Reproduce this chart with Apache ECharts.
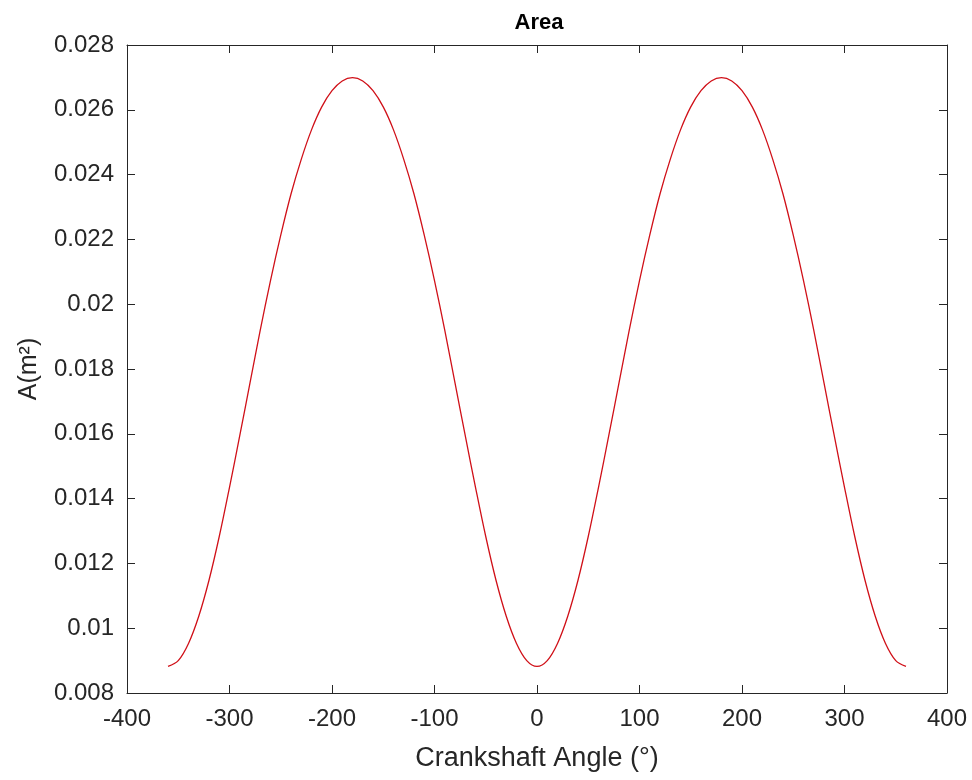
<!DOCTYPE html>
<html>
<head>
<meta charset="utf-8">
<script src="https://cdn.jsdelivr.net/npm/echarts@6/dist/echarts.min.js"></script>
<style>
html,body{margin:0;padding:0;background:#fff;}
#chart{width:972px;height:780px;}
</style>
</head>
<body>
<div id="chart"></div>
<script>
// Crankshaft angle (degrees)
const angles = [
 -360,-350,-340,-330,-320,-310,-300,-290,-280,-270,-260,-250,-240,-230,-220,-210,-200,-190,-180,
 -170,-160,-150,-140,-130,-120,-110,-100,-90,-80,-70,-60,-50,-40,-30,-20,-10,0,
 10,20,30,40,50,60,70,80,90,100,110,120,130,140,150,160,170,180,
 190,200,210,220,230,240,250,260,270,280,290,300,310,320,330,340,350,360
];
// Area A (m^2)
const areaVals = [
 0.00882,0.00900,0.00953,0.01037,0.01148,0.01283,0.01435,0.01594,0.01757,0.01920,0.02073,0.02213,0.02340,0.02447,0.02538,0.02609,0.02659,0.02689,0.02699,
 0.02689,0.02659,0.02609,0.02538,0.02447,0.02340,0.02213,0.02073,0.01920,0.01757,0.01594,0.01435,0.01283,0.01148,0.01037,0.00953,0.00900,0.00882,
 0.00900,0.00953,0.01037,0.01148,0.01283,0.01435,0.01594,0.01757,0.01920,0.02073,0.02213,0.02340,0.02447,0.02538,0.02609,0.02659,0.02689,0.02699,
 0.02689,0.02659,0.02609,0.02538,0.02447,0.02340,0.02213,0.02073,0.01920,0.01757,0.01594,0.01435,0.01283,0.01148,0.01037,0.00953,0.00900,0.00882
];
const xTicks = {min: -400, max: 400, interval: 100};
const yTicks = {min: 0.008, max: 0.028, interval: 0.002};
const titleText = 'Area';
const xName = 'Crankshaft Angle (\u00B0)';
const yName = 'A(m\u00B2)';

const FONT = '"Liberation Sans", Arial, Helvetica, sans-serif';
const AX = '#262626';

const chart = echarts.init(document.getElementById('chart'), null, {renderer: 'canvas'});
const data = angles.map((a, i) => [a, areaVals[i]]);

function axisBase(showLabel) {
  return {
    axisLine: {show: true, onZero: false, lineStyle: {color: AX, width: 1}},
    axisTick: {show: true, inside: true, length: 8, lineStyle: {color: AX, width: 1}},
    splitLine: {show: false},
    axisLabel: {show: showLabel}
  };
}

chart.setOption({
  animation: false,
  backgroundColor: '#ffffff',
  title: {
    text: titleText, left: 539, top: 12, textAlign: 'center', padding: 0,
    textStyle: {fontFamily: FONT, fontWeight: 'bold', fontSize: 22, color: '#000'}
  },
  grid: {left: 127, right: 25, top: 45, bottom: 87, containLabel: false, outerBoundsMode: 'none'},
  xAxis: [
    Object.assign(axisBase(true), {
      type: 'value', position: 'bottom', min: xTicks.min, max: xTicks.max, interval: xTicks.interval,
      name: xName, nameLocation: 'middle', nameGap: 52,
      nameTextStyle: {fontFamily: FONT, fontSize: 27, color: AX},
      axisLabel: {show: true, margin: 14, fontFamily: FONT, fontSize: 24, color: AX}
    }),
    Object.assign(axisBase(false), {
      type: 'value', position: 'top', min: xTicks.min, max: xTicks.max, interval: xTicks.interval
    })
  ],
  yAxis: [
    Object.assign(axisBase(true), {
      type: 'value', position: 'left', min: yTicks.min, max: yTicks.max, interval: yTicks.interval,
      name: yName, nameLocation: 'middle', nameGap: 85, nameRotate: 90,
      nameTextStyle: {fontFamily: FONT, fontSize: 25, color: AX},
      axisLabel: {show: true, margin: 13, fontFamily: FONT, fontSize: 24, color: AX,
        formatter: v => String(+(+v).toFixed(4))}
    }),
    Object.assign(axisBase(false), {
      type: 'value', position: 'right', min: yTicks.min, max: yTicks.max, interval: yTicks.interval
    })
  ],
  series: [{
    type: 'line', xAxisIndex: 0, yAxisIndex: 0, data: data,
    smooth: 0.35, showSymbol: false, symbol: 'none',
    lineStyle: {color: '#d01018', width: 1.3}
  }]
});
</script>
</body>
</html>
